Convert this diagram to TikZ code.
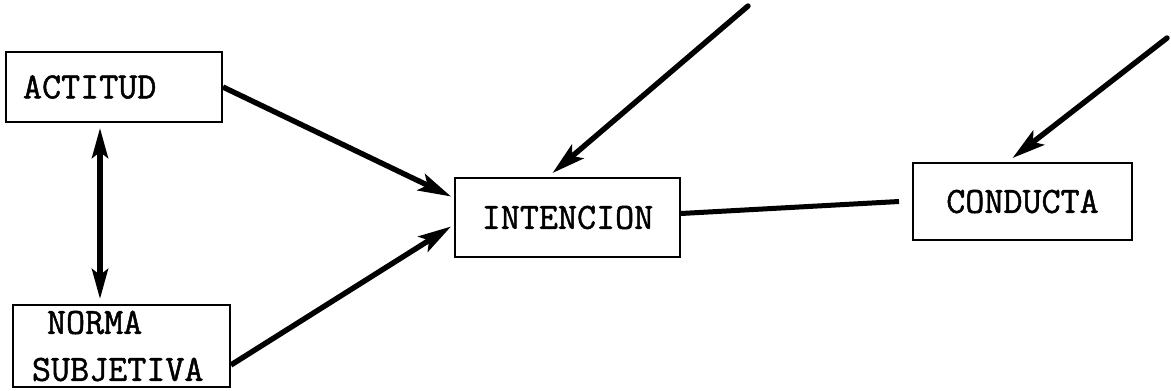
\documentclass[tikz,border=0pt]{standalone}
\usepackage{fontspec}
\usepackage{tikz}
\usetikzlibrary{arrows.meta,positioning}
\newfontfamily\typewriter[AutoFakeBold=1.3]{Latin Modern Mono}

\begin{document}
\begin{tikzpicture}[
        x=1pt, y=-1pt,
        font=\typewriter\bfseries\fontsize{37}{47}\selectfont,
        box/.style={rectangle, draw, line width=1.9pt, inner sep=0pt, minimum width=#1},
        arrow/.style={-{Stealth[length=33pt,width=18pt,inset=7pt]}, line width=5.4pt},
        twoway/.style={{Stealth[length=30pt,width=16pt,inset=6pt]}-{Stealth[length=30pt,width=16pt,inset=6pt]}, line width=5.4pt},
        link/.style={line width=5pt}
    ]
        \useasboundingbox (0,0) rectangle (1171,391);

        % the four boxes
        \node[box=216pt, minimum height=70pt, text width=182pt, align=left] (actitud) at (114,87) {ACTITUD};
        \node[box=217pt, minimum height=82pt, text width=179pt, align=left] (norma) at (121.5,346) {\hspace*{15pt}NORMA\\SUBJETIVA};
        \node[box=225pt, minimum height=79pt] (intencion) at (567.5,217.5) {INTENCION};
        \node[box=219pt, minimum height=77pt] (conducta) at (1022.5,201.5) {CONDUCTA};

        % free ends of the outside arrows
        \coordinate (fromtop) at (748,6);
        \coordinate (fromright) at (1167,38);

        \draw[arrow] (actitud.east) -- ([xshift=-3pt,yshift=21pt]intencion.west);
        \draw[arrow] ([yshift=-19pt]norma.east) -- ([xshift=-3pt,yshift=-9pt]intencion.west);
        \draw[twoway, shorten <=5pt, shorten >=5pt] ([xshift=-14pt]actitud.south) -- ([xshift=-21.5pt]norma.north);
        \draw[arrow, line cap=round] (fromtop) -- ([xshift=-15pt,yshift=4pt]intencion.north);
        \draw[arrow, line cap=round] (fromright) -- ([xshift=-10pt,yshift=4pt]conducta.north);
        \draw[link] ([yshift=4pt]intencion.east) -- ([xshift=-13pt]conducta.west);
    \end{tikzpicture}
\end{document}
